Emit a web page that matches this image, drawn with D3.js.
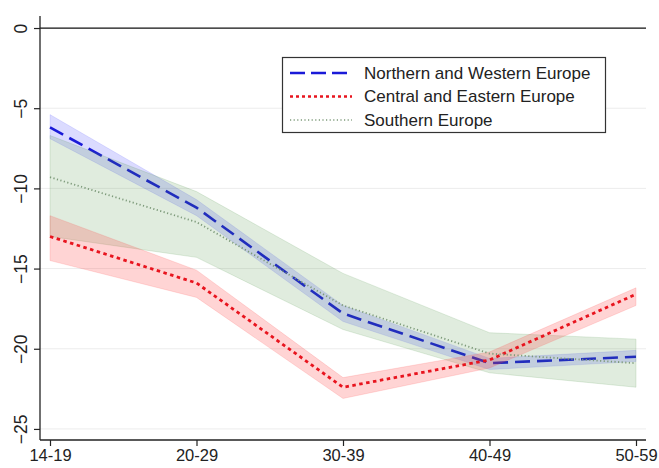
<!DOCTYPE html>
<html>
<head>
<meta charset="utf-8">
<script src="https://cdn.jsdelivr.net/npm/d3@7"></script>
<style>
  body { margin: 0; background: #fff; }
  text { font-family: Arial, "Liberation Sans", sans-serif; }
</style>
</head>
<body>
<div id="chart"></div>
<script>
// age groups on the x axis
var ageGroups = ["14-19", "20-29", "30-39", "40-49", "50-59"];
var yTicks = [0, -5, -10, -15, -20, -25];

// point estimates
var northWest = [-6.2, -11.2, -17.8, -20.9, -20.5];
var centralEast = [-13.0, -15.9, -22.4, -20.7, -16.6];
var southern = [-9.3, -12.1, -17.3, -20.3, -20.9];

// confidence bands (upper, lower)
var northWestHi = [-5.4, -10.7, -17.3, -20.6, -20.1];
var northWestLo = [-6.9, -11.7, -18.3, -21.3, -20.8];
var centralEastHi = [-11.7, -15.1, -21.8, -20.2, -16.2];
var centralEastLo = [-14.5, -16.8, -23.1, -21.2, -17.3];
var southernHi = [-6.7, -10.2, -15.3, -19.0, -19.4];
var southernLo = [-13.0, -14.3, -18.8, -21.5, -22.4];

var svgWidth = 659;
var svgHeight = 468;

var svg = d3.select("#chart")
    .append("svg")
    .attr("width", svgWidth)
    .attr("height", svgHeight);

// plot area bounds
var plotLeft = 40, plotRight = 646, plotTop = 16, plotBottom = 440;

var xScale = d3.scalePoint()
    .domain(ageGroups)
    .range([50, 636]);

var yScale = d3.scaleLinear()
    .domain([0.75, -25.69])
    .range([plotTop, plotBottom]);

// grid lines
svg.append("g")
    .selectAll("line")
    .data(yTicks.filter(d => d !== 0))
    .enter()
    .append("line")
    .attr("x1", plotLeft)
    .attr("x2", plotRight)
    .attr("y1", d => yScale(d))
    .attr("y2", d => yScale(d))
    .attr("stroke", "#ececec")
    .attr("stroke-width", 1);

function band(hi, lo) {
    return d3.area()
        .x((d, i) => xScale(ageGroups[i]))
        .y0((d, i) => yScale(lo[i]))
        .y1((d, i) => yScale(hi[i]))(hi);
}

var line = d3.line()
    .x((d, i) => xScale(ageGroups[i]))
    .y(d => yScale(d));

// Northern and Western Europe
svg.append("path")
    .attr("d", band(northWestHi, northWestLo))
    .attr("fill", "rgba(40,40,255,0.17)")
    .attr("stroke", "rgba(40,40,255,0.1)");
svg.append("path")
    .attr("d", line(northWest))
    .attr("fill", "none")
    .attr("stroke", "#1a1ad8")
    .attr("stroke-width", 2.6)
    .attr("stroke-dasharray", "15,7");

// Southern Europe band
svg.append("path")
    .attr("d", band(southernHi, southernLo))
    .attr("fill", "rgba(70,140,60,0.17)")
    .attr("stroke", "rgba(70,140,60,0.15)");

// Central and Eastern Europe
svg.append("path")
    .attr("d", band(centralEastHi, centralEastLo))
    .attr("fill", "rgba(255,60,60,0.22)")
    .attr("stroke", "rgba(255,60,60,0.15)");
svg.append("path")
    .attr("d", line(centralEast))
    .attr("fill", "none")
    .attr("stroke", "#e8141e")
    .attr("stroke-width", 2.8)
    .attr("stroke-dasharray", "3.5,3.5");

// Southern Europe line
svg.append("path")
    .attr("d", line(southern))
    .attr("fill", "none")
    .attr("stroke", "#7d9a7a")
    .attr("stroke-width", 1.8)
    .attr("stroke-dasharray", "1.2,2.4");

// zero line
svg.append("line")
    .attr("x1", plotLeft)
    .attr("x2", plotRight)
    .attr("y1", yScale(0))
    .attr("y2", yScale(0))
    .attr("stroke", "#111")
    .attr("stroke-width", 1.3);

// y axis
var yAxis = svg.append("g")
    .attr("transform", `translate(${plotLeft},0)`)
    .call(d3.axisLeft(yScale).tickValues(yTicks).tickSize(6).tickSizeOuter(0).tickFormat(d3.format("d")));
yAxis.select(".domain").attr("stroke", "#222").attr("stroke-width", 1.3)
    .attr("d", `M0,${plotTop}V${plotBottom}`);
yAxis.selectAll(".tick line").attr("stroke", "#222").attr("stroke-width", 1.2);
yAxis.selectAll(".tick text")
    .attr("font-size", 17.5)
    .attr("fill", "#222")
    .attr("x", 0)
    .attr("y", 0)
    .attr("dy", 0)
    .attr("text-anchor", "middle")
    .attr("transform", "translate(-13,0) rotate(-90)");

// x axis
var xAxis = svg.append("g")
    .attr("transform", `translate(0,${plotBottom})`)
    .call(d3.axisBottom(xScale).tickSize(6).tickSizeOuter(0));
xAxis.select(".domain").attr("stroke", "#222").attr("stroke-width", 1.3)
    .attr("d", `M${plotLeft},0H${plotRight}`);
xAxis.selectAll(".tick line").attr("stroke", "#222").attr("stroke-width", 1.2);
xAxis.selectAll(".tick text")
    .attr("font-size", 16.5)
    .attr("fill", "#222")
    .attr("y", 9)
    .attr("dy", "0.75em");

// legend
var legendItems = [
    { name: "Northern and Western Europe", color: "#1a1ad8", width: 2.6, dash: "15,6" },
    { name: "Central and Eastern Europe", color: "#e8141e", width: 2.6, dash: "3,3" },
    { name: "Southern Europe", color: "#7d9a7a", width: 1.6, dash: "1.2,2.4" }
];

var legend = svg.append("g");
legend.append("rect")
    .attr("x", 282.5)
    .attr("y", 57.5)
    .attr("width", 323)
    .attr("height", 75)
    .attr("fill", "#fff")
    .attr("stroke", "#333")
    .attr("stroke-width", 1.2);

var rows = legend.selectAll("g.row")
    .data(legendItems)
    .enter()
    .append("g")
    .attr("class", "row")
    .attr("transform", (d, i) => `translate(0, ${73 + i * 23.5})`);

rows.append("line")
    .attr("x1", 290)
    .attr("x2", 352)
    .attr("stroke", d => d.color)
    .attr("stroke-width", d => d.width)
    .attr("stroke-dasharray", d => d.dash);

rows.append("text")
    .attr("x", 364)
    .attr("dy", "0.35em")
    .attr("font-size", 17)
    .attr("fill", "#222")
    .text(d => d.name);
</script>
</body>
</html>
